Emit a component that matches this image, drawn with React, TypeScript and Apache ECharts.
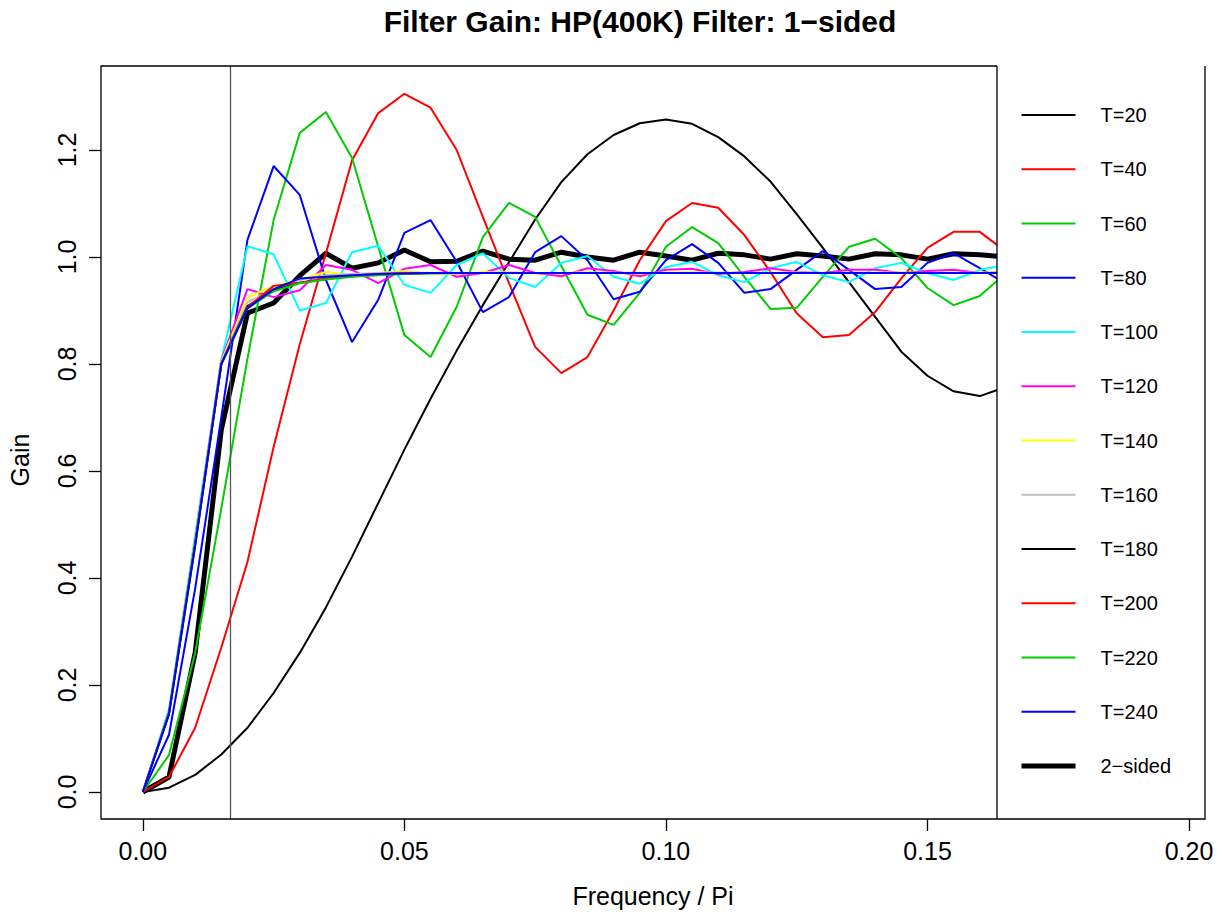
import React, { useEffect, useRef } from "react";
import * as echarts from "echarts";

const freq = [0, 0.005, 0.01, 0.015, 0.02, 0.025, 0.03, 0.035, 0.04, 0.045, 0.05, 0.055, 0.06, 0.065, 0.07, 0.075, 0.08, 0.085, 0.09, 0.095, 0.1, 0.105, 0.11, 0.115, 0.12, 0.125, 0.13, 0.135, 0.14, 0.145, 0.15, 0.155, 0.16, 0.165];

const t20 = [0, 0.008, 0.032, 0.07, 0.12, 0.185, 0.26, 0.345, 0.44, 0.54, 0.64, 0.735, 0.825, 0.91, 0.99, 1.07, 1.14, 1.192, 1.228, 1.25, 1.257, 1.249, 1.224, 1.188, 1.141, 1.08, 1.017, 0.953, 0.888, 0.823, 0.778, 0.749, 0.74, 0.757];
const t40 = [0, 0.028, 0.12, 0.27, 0.43, 0.645, 0.837, 1.007, 1.181, 1.269, 1.305, 1.279, 1.2, 1.075, 0.951, 0.832, 0.783, 0.813, 0.9, 0.994, 1.067, 1.101, 1.092, 1.041, 0.972, 0.895, 0.85, 0.854, 0.897, 0.96, 1.017, 1.047, 1.047, 1.01];
const t60 = [0, 0.069, 0.26, 0.53, 0.81, 1.069, 1.232, 1.271, 1.185, 1.019, 0.854, 0.813, 0.907, 1.037, 1.101, 1.075, 0.983, 0.892, 0.873, 0.933, 1.019, 1.056, 1.026, 0.963, 0.903, 0.905, 0.963, 1.019, 1.034, 0.998, 0.942, 0.91, 0.927, 0.97];
const t80 = [0, 0.107, 0.38, 0.7, 1.032, 1.17, 1.116, 0.957, 0.841, 0.92, 1.045, 1.069, 0.991, 0.897, 0.925, 1.009, 1.039, 0.994, 0.921, 0.935, 0.994, 1.024, 0.989, 0.933, 0.94, 0.976, 1.011, 0.976, 0.94, 0.944, 0.989, 1.007, 0.979, 0.95];
const t100 = [0, 0.155, 0.48, 0.807, 1.02, 1.005, 0.9, 0.914, 1.009, 1.021, 0.948, 0.933, 0.985, 1.007, 0.961, 0.944, 0.989, 1.002, 0.963, 0.95, 0.981, 0.991, 0.966, 0.953, 0.979, 0.991, 0.966, 0.953, 0.979, 0.989, 0.97, 0.957, 0.976, 0.985];
const t120 = [0, 0.15, 0.47, 0.807, 0.94, 0.925, 0.938, 0.985, 0.976, 0.951, 0.978, 0.985, 0.963, 0.97, 0.985, 0.97, 0.964, 0.979, 0.974, 0.964, 0.976, 0.978, 0.968, 0.972, 0.979, 0.972, 0.97, 0.976, 0.976, 0.97, 0.974, 0.976, 0.97, 0.972];
const t140 = [0, 0.15, 0.47, 0.805, 0.925, 0.945, 0.958, 0.972, 0.966, 0.97, 0.974, 0.969, 0.968, 0.972, 0.971, 0.969, 0.97, 0.972, 0.97, 0.969, 0.971, 0.972, 0.97, 0.97, 0.971, 0.971, 0.97, 0.97, 0.971, 0.971, 0.97, 0.97, 0.971, 0.971];
const t160 = [0, 0.149, 0.468, 0.803, 0.915, 0.94, 0.957, 0.966, 0.968, 0.97, 0.971, 0.97, 0.969, 0.97, 0.971, 0.97, 0.97, 0.97, 0.971, 0.97, 0.97, 0.97, 0.971, 0.97, 0.97, 0.97, 0.97, 0.971, 0.97, 0.97, 0.97, 0.97, 0.97, 0.97];
const t180 = [0, 0.148, 0.465, 0.8, 0.908, 0.938, 0.952, 0.959, 0.964, 0.967, 0.969, 0.97, 0.97, 0.97, 0.97, 0.97, 0.97, 0.97, 0.97, 0.97, 0.97, 0.97, 0.97, 0.97, 0.97, 0.97, 0.97, 0.97, 0.97, 0.97, 0.97, 0.97, 0.97, 0.97];
const t200 = [0, 0.147, 0.463, 0.8, 0.906, 0.946, 0.952, 0.96, 0.965, 0.968, 0.97, 0.97, 0.97, 0.97, 0.97, 0.97, 0.97, 0.97, 0.97, 0.97, 0.97, 0.97, 0.97, 0.97, 0.97, 0.97, 0.97, 0.97, 0.97, 0.97, 0.97, 0.97, 0.97, 0.97];
const t220 = [0, 0.146, 0.461, 0.8, 0.904, 0.936, 0.951, 0.958, 0.963, 0.966, 0.968, 0.969, 0.97, 0.97, 0.97, 0.97, 0.97, 0.97, 0.97, 0.97, 0.97, 0.97, 0.97, 0.97, 0.97, 0.97, 0.97, 0.97, 0.97, 0.97, 0.97, 0.97, 0.97, 0.97];
const t240 = [0, 0.145, 0.46, 0.8, 0.904, 0.94, 0.96, 0.963, 0.966, 0.968, 0.969, 0.97, 0.97, 0.97, 0.97, 0.97, 0.97, 0.97, 0.97, 0.97, 0.97, 0.97, 0.97, 0.97, 0.97, 0.97, 0.97, 0.97, 0.97, 0.97, 0.97, 0.97, 0.97, 0.97];
const twoSided = [0, 0.028, 0.26, 0.677, 0.895, 0.914, 0.965, 1.007, 0.979, 0.989, 1.013, 0.991, 0.992, 1.011, 0.996, 0.994, 1.009, 1.0, 0.994, 1.009, 1.002, 0.994, 1.007, 1.004, 0.996, 1.006, 1.002, 0.996, 1.006, 1.004, 0.996, 1.006, 1.004, 1.0];

const seriesNames = ["T=20", "T=40", "T=60", "T=80", "T=100", "T=120", "T=140", "T=160", "T=180", "T=200", "T=220", "T=240", "2\u2212sided"];
const seriesValues = [t20, t40, t60, t80, t100, t120, t140, t160, t180, t200, t220, t240, twoSided];
const seriesColors = ["#000000", "#FF0000", "#00CD00", "#0000FF", "#00FFFF", "#FF00FF", "#FFFF00", "#BEBEBE", "#000000", "#FF0000", "#00CD00", "#0000FF", "#000000"];
const seriesWidths = [2, 2, 2, 2, 2, 2, 2, 2, 2, 2, 2, 2, 5];

const xTicks = [0, 0.05, 0.1, 0.15, 0.2];
const yTicks = [0, 0.2, 0.4, 0.6, 0.8, 1.0, 1.2];
const cutoff = 1 / 60;

const FONT = "'Liberation Sans', Arial, Helvetica, sans-serif";

export default function App() {
  const ref = useRef<HTMLDivElement>(null);
  useEffect(() => {
    if (!ref.current) return;
    const chart = echarts.init(ref.current, null, { renderer: "svg" });
    const order = [12, 0, 1, 2, 3, 4, 5, 6, 7, 8, 9, 10, 11];
    const series: any[] = order.map((i, k) => ({
      name: seriesNames[i],
      type: "line",
      symbol: "none",
      silent: true,
      data: freq.map((f, j) => [f, seriesValues[i][j]]),
      lineStyle: { color: seriesColors[i], width: seriesWidths[i] },
      itemStyle: { color: seriesColors[i] },
      z: 2,
      markLine:
        k === 0
          ? {
              silent: true,
              symbol: "none",
              precision: 6,
              label: { show: false },
              lineStyle: { color: "#555555", width: 1.3, type: "solid" },
              data: [{ xAxis: cutoff }],
            }
          : undefined,
    }));

    chart.setOption({
      animation: false,
      backgroundColor: "#ffffff",
      textStyle: { fontFamily: FONT },
      grid: { left: 101, right: 20, top: 66, bottom: 95, containLabel: false },
      xAxis: {
        type: "value",
        min: -0.008,
        max: 0.20306,
        axisLine: { show: false, onZero: false },
        splitLine: { show: false },
        axisTick: { show: true, customValues: xTicks, length: 12, lineStyle: { color: "#000", width: 1.3 } },
        axisLabel: {
          customValues: xTicks,
          formatter: (v: number) => v.toFixed(2),
          fontSize: 25,
          color: "#000",
          margin: 19,
          fontFamily: FONT,
        },
      },
      yAxis: {
        type: "value",
        min: -0.0505,
        max: 1.357,
        axisLine: { show: false, onZero: false },
        splitLine: { show: false },
        axisTick: { show: true, customValues: yTicks, length: 12, lineStyle: { color: "#000", width: 1.3 } },
        axisLabel: {
          customValues: yTicks,
          formatter: (v: number) => v.toFixed(1),
          fontSize: 25,
          color: "#000",
          rotate: 90,
          margin: 22,
          fontFamily: FONT,
        },
      },
      legend: {
        orient: "vertical",
        left: 1019,
        top: 105,
        itemWidth: 54,
        itemHeight: 14,
        itemGap: 34.25,
        padding: 0,
        z: 20,
        selectedMode: false,
        itemStyle: { opacity: 0 },
        data: seriesNames.map((n, i) => ({
          name: n,
          lineStyle: { width: seriesWidths[i], color: seriesColors[i] },
        })),
        textStyle: { fontSize: 20, color: "#000", fontFamily: FONT, padding: [0, 0, 0, 20] },
      },
      graphic: {
        elements: [
          { type: "rect", z: 10, silent: true, shape: { x: 997, y: 66, width: 208, height: 753 }, style: { fill: "#ffffff" } },
          { type: "polyline", z: 12, silent: true, shape: { points: [[997, 66], [101, 66], [101, 819], [1205, 819], [1205, 66]] }, style: { stroke: "#000", lineWidth: 1.3, fill: null } },
          { type: "line", z: 12, silent: true, shape: { x1: 997, y1: 66, x2: 997, y2: 819 }, style: { stroke: "#000", lineWidth: 1.3 } },
          { type: "text", z: 12, silent: true, x: 640, y: 21, style: { text: "Filter Gain: HP(400K) Filter: 1\u2212sided", font: `bold 30px ${FONT}`, fill: "#000", textAlign: "center", textVerticalAlign: "middle" } },
          { type: "text", z: 12, silent: true, x: 653, y: 896, style: { text: "Frequency / Pi", font: `25px ${FONT}`, fill: "#000", textAlign: "center", textVerticalAlign: "middle" } },
          { type: "text", z: 12, silent: true, x: 20, y: 460, rotation: Math.PI / 2, style: { text: "Gain", font: `25px ${FONT}`, fill: "#000", textAlign: "center", textVerticalAlign: "middle" } },
        ],
      },
      series,
    });
    return () => chart.dispose();
  }, []);
  return <div ref={ref} style={{ position: "absolute", left: 0, top: 0, width: 1225, height: 914 }} />;
}
